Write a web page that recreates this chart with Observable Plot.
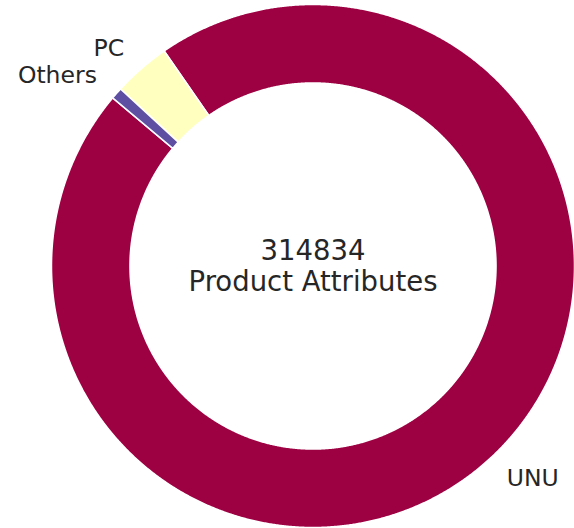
<!DOCTYPE html>
<html>
<head>
<meta charset="utf-8">
<script src="https://cdn.jsdelivr.net/npm/d3@7"></script>
<script src="https://cdn.jsdelivr.net/npm/@observablehq/plot@0.6"></script>
<style>
  html, body { margin: 0; padding: 0; background: #ffffff; }
  #chart svg { display: block; }
</style>
</head>
<body>
<div id="chart"></div>
<script>
// ---- data ----
const categories = ["UNU", "PC", "Others"];
const values = [301450, 11120, 2264];
const colors = ["#9e0142", "#ffffbf", "#5e4fa2"];
const centerLabel = "Product Attributes";

// ---- layout parameters (matplotlib-style pie) ----
const startAngleDeg = 140;   // counterclockwise from 3 o'clock
const innerRatio = 0.70;     // donut hole
const labelDistance = 1.1;   // label radius

const toRad = Math.PI / 180;
const total = d3.sum(values);
const start = (90 - startAngleDeg) * toRad;   // d3 angle: clockwise from 12 o'clock

const arcs = d3.pie()
  .sort(null)
  .value(d => d.value)
  .startAngle(start)
  .endAngle(start - 2 * Math.PI)(categories.map((c, i) => ({category: c, value: values[i]})));

const pt = (r, a) => [r * Math.sin(a), -r * Math.cos(a)];

function arcPoints(r, a0, a1) {
  const n = Math.max(2, Math.ceil(Math.abs(a1 - a0) / (0.25 * toRad)));
  return d3.range(n + 1).map(i => pt(r, a0 + (a1 - a0) * i / n));
}

function slicePolygon(a0, a1) {
  const outer = arcPoints(1, a0, a1);
  const inner = arcPoints(innerRatio, a1, a0);
  return [...outer, ...inner, outer[0]];
}

const features = arcs.map(a => ({
  type: "Feature",
  properties: {category: a.data.category, value: a.data.value},
  geometry: {type: "Polygon", coordinates: [slicePolygon(a.startAngle, a.endAngle)]}
}));

const outline = {
  type: "Polygon",
  coordinates: [arcPoints(1, 0, 2 * Math.PI)]
};

const labels = arcs.map(a => {
  const mid = (a.startAngle + a.endAngle) / 2;
  const [x, y] = pt(labelDistance, mid);
  return {x, y, label: a.data.category};
});

const center = [{x: 0, y: 0, label: `${total}\n${centerLabel}`}];

const textStyle = {fill: "#262626", fontSize: 23.5, lineAnchor: "bottom", dy: 7};

const chart = Plot.plot({
  width: 574,
  height: 528,
  marginTop: 4,
  marginBottom: 1,
  marginLeft: 51,
  marginRight: 0,
  projection: {type: "identity", domain: outline},
  color: {domain: categories, range: colors},
  style: {fontFamily: "'DejaVu Sans', sans-serif", background: "#ffffff"},
  marks: [
    Plot.geo(features, {fill: d => d.properties.category, stroke: "#ffffff", strokeWidth: 1.5}),
    Plot.text(labels.filter(d => d.x < 0), {x: "x", y: "y", text: "label", textAnchor: "end", ...textStyle}),
    Plot.text(labels.filter(d => d.x >= 0), {x: "x", y: "y", text: "label", textAnchor: "start", ...textStyle}),
    Plot.text(center, {x: "x", y: "y", text: "label", fill: "#262626", fontSize: 27.5, lineHeight: 1.13, lineAnchor: "middle", textAnchor: "middle"})
  ]
});

document.getElementById("chart").appendChild(chart);
</script>
</body>
</html>
